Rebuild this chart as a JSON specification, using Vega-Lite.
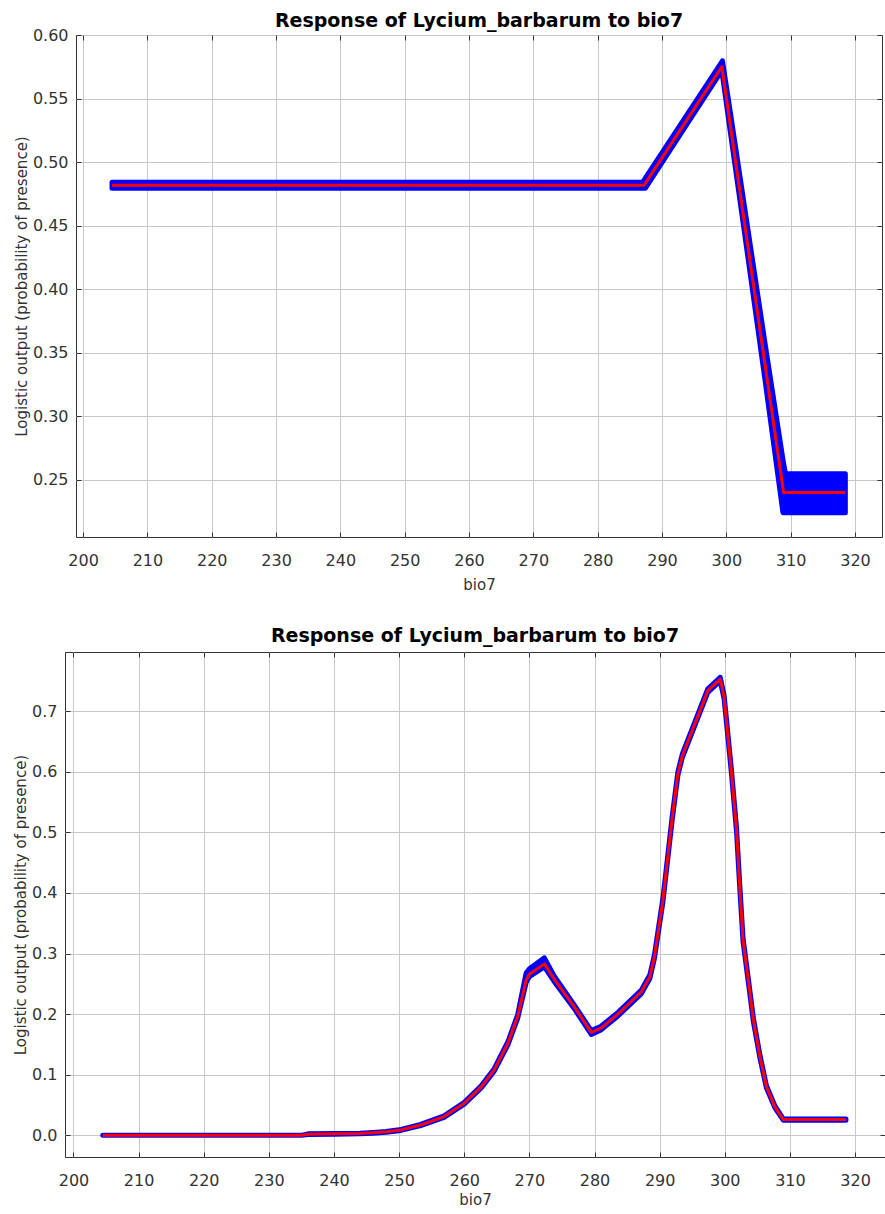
{
  "$schema": "https://vega.github.io/schema/vega-lite/v6.json",
  "background": "white",
  "padding": {"left": 13, "top": 11, "right": 1, "bottom": 3},
  "spacing": 33,
  "datasets": {
    "top": [
      {"x": 204.5, "mean": 0.4818, "lo": 0.4794, "hi": 0.4842},
      {"x": 287.0, "mean": 0.4818, "lo": 0.4794, "hi": 0.4842},
      {"x": 287.2, "mean": 0.4818, "lo": 0.4794, "hi": 0.4857},
      {"x": 287.4, "mean": 0.4833, "lo": 0.4794, "hi": 0.4873},
      {"x": 293.0, "mean": 0.5265, "lo": 0.5230, "hi": 0.5304},
      {"x": 299.3, "mean": 0.5750, "lo": 0.5720, "hi": 0.5789},
      {"x": 299.4, "mean": 0.5715, "lo": 0.5683, "hi": 0.5797},
      {"x": 300.5, "mean": 0.5331, "lo": 0.5281, "hi": 0.5432},
      {"x": 303.0, "mean": 0.4459, "lo": 0.4380, "hi": 0.4590},
      {"x": 306.0, "mean": 0.3412, "lo": 0.3290, "hi": 0.3580},
      {"x": 308.8, "mean": 0.2435, "lo": 0.2241, "hi": 0.2660},
      {"x": 308.9, "mean": 0.2400, "lo": 0.2241, "hi": 0.2630},
      {"x": 309.2, "mean": 0.2400, "lo": 0.2241, "hi": 0.2547},
      {"x": 318.5, "mean": 0.2400, "lo": 0.2241, "hi": 0.2547}
    ],
    "bottom": [
      {"x": 204.5, "mean": 0.0000, "lo": 0.0000, "hi": 0.0000},
      {"x": 235.0, "mean": 0.0000, "lo": 0.0000, "hi": 0.0000},
      {"x": 236.0, "mean": 0.0020, "lo": 0.0015, "hi": 0.0025},
      {"x": 240.0, "mean": 0.0025, "lo": 0.0020, "hi": 0.0030},
      {"x": 244.0, "mean": 0.0030, "lo": 0.0025, "hi": 0.0035},
      {"x": 246.0, "mean": 0.0042, "lo": 0.0036, "hi": 0.0048},
      {"x": 248.0, "mean": 0.0058, "lo": 0.0051, "hi": 0.0065},
      {"x": 250.3, "mean": 0.0090, "lo": 0.0082, "hi": 0.0098},
      {"x": 253.3, "mean": 0.0170, "lo": 0.0160, "hi": 0.0180},
      {"x": 256.9, "mean": 0.0310, "lo": 0.0298, "hi": 0.0322},
      {"x": 260.0, "mean": 0.0530, "lo": 0.0515, "hi": 0.0545},
      {"x": 262.6, "mean": 0.0800, "lo": 0.0782, "hi": 0.0818},
      {"x": 264.6, "mean": 0.1080, "lo": 0.1060, "hi": 0.1100},
      {"x": 266.7, "mean": 0.1520, "lo": 0.1495, "hi": 0.1545},
      {"x": 268.2, "mean": 0.1960, "lo": 0.1930, "hi": 0.1990},
      {"x": 269.5, "mean": 0.2560, "lo": 0.2520, "hi": 0.2680},
      {"x": 270.0, "mean": 0.2660, "lo": 0.2620, "hi": 0.2750},
      {"x": 272.3, "mean": 0.2830, "lo": 0.2780, "hi": 0.2930},
      {"x": 273.8, "mean": 0.2580, "lo": 0.2540, "hi": 0.2630},
      {"x": 276.9, "mean": 0.2120, "lo": 0.2090, "hi": 0.2150},
      {"x": 279.5, "mean": 0.1700, "lo": 0.1665, "hi": 0.1730},
      {"x": 281.0, "mean": 0.1770, "lo": 0.1740, "hi": 0.1800},
      {"x": 283.6, "mean": 0.2000, "lo": 0.1970, "hi": 0.2030},
      {"x": 287.2, "mean": 0.2370, "lo": 0.2340, "hi": 0.2400},
      {"x": 288.5, "mean": 0.2620, "lo": 0.2590, "hi": 0.2650},
      {"x": 289.2, "mean": 0.2950, "lo": 0.2920, "hi": 0.2980},
      {"x": 290.5, "mean": 0.3880, "lo": 0.3850, "hi": 0.3910},
      {"x": 291.9, "mean": 0.5210, "lo": 0.5180, "hi": 0.5240},
      {"x": 292.8, "mean": 0.5970, "lo": 0.5940, "hi": 0.6000},
      {"x": 293.5, "mean": 0.6270, "lo": 0.6240, "hi": 0.6300},
      {"x": 296.2, "mean": 0.7010, "lo": 0.6980, "hi": 0.7040},
      {"x": 297.4, "mean": 0.7340, "lo": 0.7310, "hi": 0.7370},
      {"x": 299.3, "mean": 0.7530, "lo": 0.7500, "hi": 0.7560},
      {"x": 299.9, "mean": 0.7230, "lo": 0.7200, "hi": 0.7260},
      {"x": 301.0, "mean": 0.6030, "lo": 0.6000, "hi": 0.6060},
      {"x": 301.8, "mean": 0.5050, "lo": 0.5020, "hi": 0.5080},
      {"x": 302.3, "mean": 0.4110, "lo": 0.4080, "hi": 0.4140},
      {"x": 302.8, "mean": 0.3230, "lo": 0.3200, "hi": 0.3260},
      {"x": 303.6, "mean": 0.2570, "lo": 0.2540, "hi": 0.2600},
      {"x": 304.4, "mean": 0.1900, "lo": 0.1870, "hi": 0.1930},
      {"x": 305.4, "mean": 0.1300, "lo": 0.1275, "hi": 0.1325},
      {"x": 306.4, "mean": 0.0800, "lo": 0.0780, "hi": 0.0820},
      {"x": 307.7, "mean": 0.0470, "lo": 0.0455, "hi": 0.0485},
      {"x": 309.0, "mean": 0.0260, "lo": 0.0250, "hi": 0.0270},
      {"x": 318.6, "mean": 0.0260, "lo": 0.0250, "hi": 0.0270}
    ]
  },
  "config": {
    "font": "DejaVu Sans",
    "view": {"stroke": "#333333", "strokeWidth": 1},
    "axis": {
      "domain": false,
      "grid": true,
      "gridColor": "#c8c8c8",
      "gridWidth": 1,
      "tickColor": "#333333",
      "tickSize": -5,
      "labelFont": "DejaVu Sans",
      "labelFontSize": 16,
      "labelColor": "#333333",
      "titleFont": "DejaVu Sans",
      "titleFontSize": 15,
      "titleFontWeight": "normal",
      "titleColor": "#333333"
    },
    "axisX": {"labelPadding": 20, "titlePadding": 9},
    "axisY": {"labelPadding": 13, "titlePadding": 3},
    "title": {"font": "DejaVu Sans", "fontSize": 19, "fontWeight": "bold", "color": "#000000", "frame": "group", "anchor": "middle", "offset": 5}
  },
  "vconcat": [
    {
      "spacing": -72,
      "align": "none",
      "hconcat": [
        {
          "width": 0,
          "height": 0,
          "view": {"stroke": null},
          "data": {"values": [{"a": 1}]},
          "mark": {"type": "text", "text": ""},
          "encoding": {}
        },
        {
          "width": 806,
          "height": 502,
          "title": {"text": "Response of Lycium_barbarum to bio7", "offset": -4},
          "data": {"name": "top"},
          "layer": [
            {
              "mark": {"type": "area", "color": "#0000ff", "stroke": "#0000ff", "strokeWidth": 5, "strokeJoin": "round", "opacity": 1},
              "encoding": {
                "x": {"field": "x", "type": "quantitative", "scale": {"domain": [198.9, 324.2], "nice": false, "zero": false}, "axis": {"values": [200, 210, 220, 230, 240, 250, 260, 270, 280, 290, 300, 310, 320], "title": "bio7"}},
                "y": {"field": "lo", "type": "quantitative", "scale": {"domain": [0.205, 0.6], "nice": false, "zero": false}, "axis": {"values": [0.25, 0.3, 0.35, 0.4, 0.45, 0.5, 0.55, 0.6], "format": ".2f", "title": "Logistic output (probability of presence)"}},
                "y2": {"field": "hi"}
              }
            },
            {
              "mark": {"type": "line", "color": "#ff0000", "strokeWidth": 3, "strokeJoin": "round"},
              "encoding": {
                "x": {"field": "x", "type": "quantitative", "scale": {"domain": [198.9, 324.2], "nice": false, "zero": false}, "axis": {"orient": "top", "values": [200, 210, 220, 230, 240, 250, 260, 270, 280, 290, 300, 310, 320], "labels": false, "labelPadding": 0, "title": null, "grid": false}},
                "y": {"field": "mean", "type": "quantitative", "scale": {"domain": [0.205, 0.6], "nice": false, "zero": false}, "axis": {"orient": "right", "values": [0.25, 0.3, 0.35, 0.4, 0.45, 0.5, 0.55, 0.6], "labels": false, "labelPadding": 0, "title": null, "grid": false}}
              }
            }
          ],
          "resolve": {"axis": {"x": "independent", "y": "independent"}}
        }
      ]
    },
    {
      "width": 820,
      "height": 505,
      "title": {"text": "Response of Lycium_barbarum to bio7", "offset": 6},
      "data": {"name": "bottom"},
      "layer": [
        {
          "mark": {"type": "area", "color": "#0000ff", "stroke": "#0000ff", "strokeWidth": 5, "strokeJoin": "round", "opacity": 1},
          "encoding": {
            "x": {"field": "x", "type": "quantitative", "scale": {"domain": [198.7, 324.6], "nice": false, "zero": false}, "axis": {"values": [200, 210, 220, 230, 240, 250, 260, 270, 280, 290, 300, 310, 320], "title": "bio7", "titlePadding": 4}},
            "y": {"field": "lo", "type": "quantitative", "scale": {"domain": [-0.0357, 0.7977], "nice": false, "zero": false}, "axis": {"values": [0, 0.1, 0.2, 0.3, 0.4, 0.5, 0.6, 0.7], "format": ".1f", "title": "Logistic output (probability of presence)"}},
            "y2": {"field": "hi"}
          }
        },
        {
          "mark": {"type": "line", "color": "#ff0000", "strokeWidth": 3, "strokeJoin": "round"},
          "encoding": {
            "x": {"field": "x", "type": "quantitative", "scale": {"domain": [198.7, 324.6], "nice": false, "zero": false}, "axis": {"orient": "top", "values": [200, 210, 220, 230, 240, 250, 260, 270, 280, 290, 300, 310, 320], "labels": false, "labelPadding": 0, "title": null, "grid": false}},
            "y": {"field": "mean", "type": "quantitative", "scale": {"domain": [-0.0357, 0.7977], "nice": false, "zero": false}, "axis": {"orient": "right", "values": [0, 0.1, 0.2, 0.3, 0.4, 0.5, 0.6, 0.7], "labels": false, "labelPadding": 0, "title": null, "grid": false}}
          }
        }
      ],
      "resolve": {"axis": {"x": "independent", "y": "independent"}}
    }
  ]
}
